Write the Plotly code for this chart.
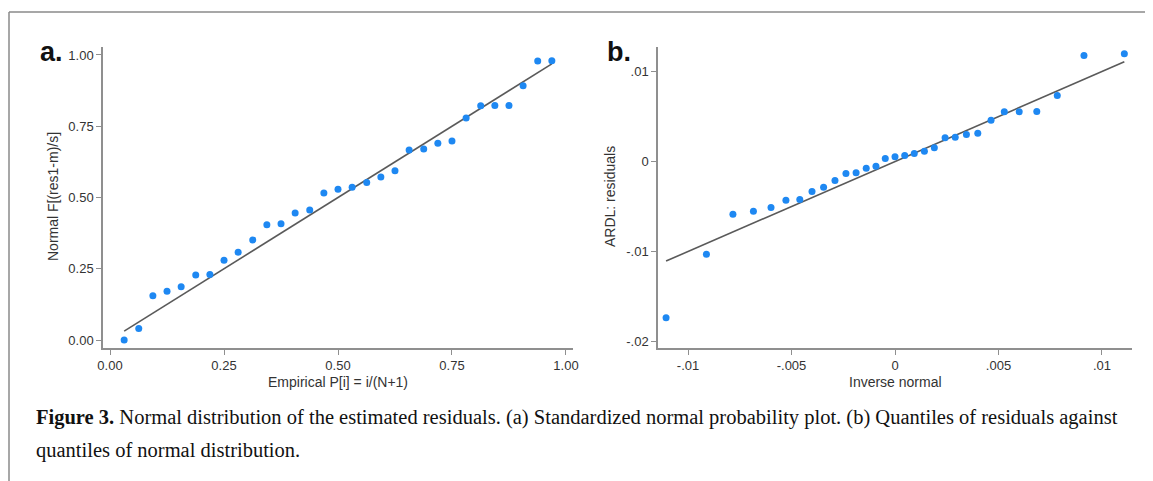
import plotly.graph_objects as go

# ---------------- data ----------------
# Panel a: standardized normal probability plot
a_x = [0.031, 0.063, 0.094, 0.125, 0.156, 0.188, 0.219, 0.250, 0.281, 0.313, 0.344,
       0.375, 0.406, 0.438, 0.469, 0.500, 0.531, 0.563, 0.594, 0.625, 0.656, 0.688,
       0.719, 0.750, 0.781, 0.813, 0.844, 0.875, 0.906, 0.938, 0.969]
a_y = [0.000, 0.040, 0.155, 0.171, 0.187, 0.228, 0.230, 0.280, 0.308, 0.351, 0.404,
       0.408, 0.446, 0.456, 0.516, 0.529, 0.536, 0.553, 0.572, 0.594, 0.667, 0.670,
       0.690, 0.698, 0.779, 0.822, 0.823, 0.823, 0.892, 0.979, 0.980]
a_ticks = [0, 0.25, 0.5, 0.75, 1.0]
a_ticklabels = ["0.00", "0.25", "0.50", "0.75", "1.00"]

# Panel b: quantiles of residuals vs quantiles of normal distribution
b_x = [-0.01106, -0.00911, -0.00783, -0.00684, -0.00599, -0.00527, -0.00460, -0.00401,
       -0.00345, -0.00290, -0.00237, -0.00188, -0.00139, -0.00092, -0.00047, 0.0,
       0.00047, 0.00093, 0.00142, 0.00190, 0.00242, 0.00291, 0.00345, 0.00400,
       0.00464, 0.00528, 0.00600, 0.00685, 0.00784, 0.00913, 0.01108]
b_y = [-0.01737, -0.01030, -0.00585, -0.00552, -0.00511, -0.00430, -0.00422, -0.00333,
       -0.00285, -0.00211, -0.00133, -0.00126, -0.00074, -0.00052, 0.00033, 0.00052,
       0.00067, 0.00089, 0.00115, 0.00152, 0.00263, 0.00270, 0.00300, 0.00315,
       0.00459, 0.00552, 0.00552, 0.00556, 0.00733, 0.01178, 0.01197]
b_xticks = [-0.01, -0.005, 0, 0.005, 0.01]
b_xticklabels = ["-.01", "-.005", "0", ".005", ".01"]
b_yticks = [-0.02, -0.01, 0, 0.01]
b_yticklabels = ["-.02", "-.01", "0", ".01"]

caption_bold = "Figure 3."
caption_line1 = (" Normal distribution of the estimated residuals. (a) Standardized normal "
                 "probability plot. (b) Quantiles of residuals against")
caption_line2 = "quantiles of normal distribution."

# ---------------- styling ----------------
OFF = 8  # page body margin
W, H = 1153 - OFF, 481 - OFF
def px(x):
    return (x - OFF) / W
def py(y):
    return 1 - (y - OFF) / H

DOT = "#1e88f2"
REF = "#5a5a5a"
AXC = "#8f8f8f"
TXT = "#333333"
SANS = "Liberation Sans, Arial, sans-serif"
SERIF = "Liberation Serif, Times New Roman, serif"

fig = go.Figure()

fig.add_trace(go.Scatter(x=[a_x[0], a_x[-1]], y=[a_x[0], a_x[-1]], mode="lines",
                         line=dict(color=REF, width=1.6), xaxis="x", yaxis="y",
                         showlegend=False, hoverinfo="skip"))
fig.add_trace(go.Scatter(x=a_x, y=a_y, mode="markers",
                         marker=dict(color=DOT, size=7), xaxis="x", yaxis="y",
                         showlegend=False))
fig.add_trace(go.Scatter(x=[b_x[0], b_x[-1]], y=[b_x[0], b_x[-1]], mode="lines",
                         line=dict(color=REF, width=1.6), xaxis="x2", yaxis="y2",
                         showlegend=False, hoverinfo="skip"))
fig.add_trace(go.Scatter(x=b_x, y=b_y, mode="markers",
                         marker=dict(color=DOT, size=7), xaxis="x2", yaxis="y2",
                         showlegend=False))

axis_common = dict(showline=True, linecolor=AXC, linewidth=1.5, ticks="outside",
                   ticklen=5, tickwidth=1.2, tickcolor=AXC, showgrid=False,
                   zeroline=False, tickfont=dict(family=SANS, size=13, color=TXT),
                   automargin=False)

fig.update_layout(
    width=W, height=H,
    margin=dict(l=0, r=0, t=0, b=0),
    paper_bgcolor="white", plot_bgcolor="white",
    xaxis=dict(domain=[px(103), px(573)], range=[-0.0154, 1.0154], anchor="y",
               tickvals=a_ticks, ticktext=a_ticklabels, **axis_common),
    yaxis=dict(domain=[py(348), py(47)], range=[-0.028, 1.028], anchor="x",
               tickvals=a_ticks, ticktext=a_ticklabels, **axis_common),
    xaxis2=dict(domain=[px(658), px(1132)], range=[-0.01145, 0.01145], anchor="y2",
                tickvals=b_xticks, ticktext=b_xticklabels, **axis_common),
    yaxis2=dict(domain=[py(348), py(47)], range=[-0.02072, 0.01272], anchor="x2",
                tickvals=b_yticks, ticktext=b_yticklabels, **axis_common),
)

ann = []
# panel letters
ann.append(dict(text="<b>a.</b>", x=px(38), y=py(52), xref="paper", yref="paper",
                xanchor="left", yanchor="middle", showarrow=False,
                font=dict(family=SANS, size=27, color="#111111")))
ann.append(dict(text="<b>b.</b>", x=px(605), y=py(52), xref="paper", yref="paper",
                xanchor="left", yanchor="middle", showarrow=False,
                font=dict(family=SANS, size=27, color="#111111")))
# axis titles
tfont = dict(family=SANS, size=14, color=TXT)
ann.append(dict(text="Empirical P[i] = i/(N+1)", x=px(338), y=py(382), xref="paper",
                yref="paper", xanchor="center", yanchor="middle", showarrow=False,
                font=tfont))
ann.append(dict(text="Normal F[(res1-m)/s]", x=px(53), y=py(197), xref="paper",
                yref="paper", xanchor="center", yanchor="middle", showarrow=False,
                textangle=-90, font=tfont))
ann.append(dict(text="Inverse normal", x=px(895), y=py(382), xref="paper",
                yref="paper", xanchor="center", yanchor="middle", showarrow=False,
                font=tfont))
ann.append(dict(text="ARDL: residuals", x=px(610), y=py(197), xref="paper",
                yref="paper", xanchor="center", yanchor="middle", showarrow=False,
                textangle=-90, font=tfont))
# caption
cfont = dict(family=SERIF, size=20.5, color="#111111")
ann.append(dict(text="<b>" + caption_bold + "</b>" + caption_line1, x=px(34), y=py(417),
                xref="paper", yref="paper", xanchor="left", yanchor="middle",
                showarrow=False, font=cfont))
ann.append(dict(text=caption_line2, x=px(34), y=py(450),
                xref="paper", yref="paper", xanchor="left", yanchor="middle",
                showarrow=False, font=cfont))
fig.update_layout(annotations=ann)

# outer frame (top and left edges visible)
fig.add_shape(type="line", xref="paper", yref="paper", x0=px(9), x1=1.0,
              y0=py(12), y1=py(12), line=dict(color="#8a8a8a", width=1.5))
fig.add_shape(type="line", xref="paper", yref="paper", x0=px(9), x1=px(9),
              y0=py(12), y1=0.0, line=dict(color="#8a8a8a", width=1.5))

fig.write_html("out.html")
